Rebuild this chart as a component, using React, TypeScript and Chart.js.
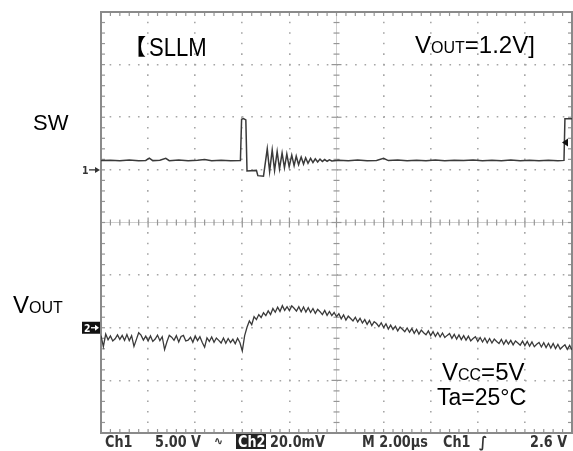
import React, { useEffect, useRef } from "react";
import { Chart, registerables } from "chart.js";

Chart.register(...registerables);

// ---- Data ----
// Time axis: 0..20 µs (M 2.00µs / div, 10 div)
const TIME_MIN_US = 0;
const TIME_MAX_US = 20;
const TIME_DIV_US = 2;

// Ch1 (SW): 5.00 V/div, ground marker one division above centre
const CH1_MIN_V = -25;
const CH1_MAX_V = 15;
const CH1_DIV_V = 5;

// Ch2 (VOUT, AC): 20.0 mV/div, ground marker two divisions below centre
const CH2_MIN_MV = -40;
const CH2_MAX_MV = 120;

const swTimeUs = [
  0, 0.4, 0.8, 1.2, 1.6, 1.9, 2.05, 2.2, 2.5, 2.75, 2.9, 3.3, 3.7, 4.1, 4.4, 4.7, 5.1, 5.5, 5.92,
  5.97, 6.05, 6.15, 6.2,
  6.6, 6.66, 6.9,
  7.06, 7.16, 7.27, 7.37, 7.48, 7.58, 7.69, 7.79, 7.89, 7.99, 8.1, 8.2, 8.29, 8.39, 8.5, 8.6,
  8.69, 8.79, 8.9, 9.0, 9.1, 9.2, 9.3, 9.4, 9.5, 9.6, 9.7, 9.8,
  10.1, 10.5, 10.9, 11.3, 11.7, 12.0, 12.2, 12.6, 13.0, 13.4, 13.8, 14.2, 14.6, 15.0, 15.4,
  15.8, 16.2, 16.6, 17.0, 17.4, 17.8, 18.2, 18.6, 19.0, 19.4, 19.66,
  19.7, 20,
];
const swVolt = [
  0.88, 0.92, 0.86, 0.93, 0.87, 0.9, 1.12, 0.88, 0.92, 1.1, 0.87, 0.93, 0.86, 0.92, 0.98, 0.86, 0.92, 0.87, 0.9,
  4.8, 4.88, 4.75, -0.1,
  -0.05, -0.55, -0.6,
  2.0, -0.15, 1.9, -0.05, 1.75, 0.1, 1.6, 0.2, 1.5, 0.3, 1.4, 0.4, 1.3, 0.5, 1.22, 0.55,
  1.15, 0.62, 1.1, 0.7, 1.05, 0.75, 1.02, 0.8, 0.98, 0.82, 0.96, 0.85,
  0.92, 0.87, 0.93, 0.86, 0.9, 1.1, 0.88, 0.93, 0.86, 0.92, 0.87, 0.93, 0.86, 0.92, 0.88,
  0.94, 0.87, 0.92, 0.86, 0.93, 0.87, 0.92, 0.86, 0.91, 0.87, 0.9,
  4.85, 4.85,
];

// VOUT ripple, mV, one sample every 0.1 µs from 0 to 20 µs
const VOUT_SAMPLE_US = 0.1;
const voutMv = [
  -3.0, -7.2, -2.4, -4.6, -3.1, -5.0, -4.2, -2.7, -4.4, -2.9,
  -4.8, -2.6, -4.9, -3.0, -7.1, -4.5, -1.9, -2.8, -4.7, -3.2,
  -5.0, -3.1, -5.2, -4.3, -2.8, -4.9, -3.4, -8.3, -5.3, -2.9,
  -3.6, -4.8, -3.0, -5.4, -3.3, -2.9, -5.0, -4.7, -3.6, -5.5,
  -3.1, -4.9, -3.4, -5.6, -7.4, -3.8, -5.2, -3.5, -5.5, -3.9,
  -4.8, -5.8, -3.9, -5.9, -4.1, -5.6, -4.4, -6.1, -4.0, -5.7,
  -8.8, -3.0, 0.2, 2.6, 1.2, 4.2, 3.1, 5.0, 3.9, 5.7,
  4.6, 6.4, 5.0, 7.3, 5.9, 7.8, 6.2, 8.4, 6.6, 8.0,
  6.5, 8.3, 7.4, 6.3, 8.0, 6.1, 7.9, 6.0, 7.6, 5.8,
  7.3, 5.5, 7.0, 6.1, 5.0, 6.6, 4.7, 6.2, 4.6, 5.8,
  4.2, 5.3, 3.4, 4.9, 2.9, 4.4, 3.5, 2.6, 4.0, 2.2,
  3.6, 1.8, 3.1, 1.3, 2.8, 0.8, 2.3, 1.6, 0.4, 1.9,
  0.1, 1.5, -0.5, 1.0, -0.7, 0.6, -1.2, 0.3, -0.6, -1.5,
  -0.1, -1.7, -0.3, -2.1, -0.6, -2.4, -0.9, -1.9, -2.7, -1.2,
  -3.0, -1.5, -3.3, -1.8, -3.5, -2.0, -3.7, -2.9, -2.2, -4.0,
  -2.5, -4.3, -2.7, -4.5, -3.0, -4.7, -3.2, -5.0, -4.1, -3.4,
  -5.2, -3.7, -5.4, -3.9, -5.7, -4.1, -5.8, -4.3, -5.2, -6.0,
  -4.4, -6.3, -4.7, -6.2, -4.8, -6.5, -5.0, -5.8, -6.6, -5.1,
  -6.8, -5.2, -7.0, -5.4, -7.2, -6.3, -5.6, -7.3, -5.7, -7.5,
  -5.9, -7.7, -6.0, -7.9, -6.3, -8.1, -7.2, -6.5, -8.2, -6.7,
  -8.4, -6.9, -8.5, -7.0, -8.7, -7.1, -8.8, -7.4, -6.2, -3.4,
  -2.6,
];

// Readout texts
const readoutCh1 = "Ch1";
const readoutCh1Scale = "5.00 V";
const readoutCoupling = "∿";
const readoutCh2 = "Ch2";
const readoutCh2Scale = "20.0mV";
const readoutTime = "M 2.00µs";
const readoutTrigSrc = "Ch1";
const readoutTrigSlope = "∫";
const readoutTrigLevel = "2.6 V";
const TRIG_LEVEL_V = 2.6;

const SANS = '"Liberation Sans", Arial, sans-serif';
const MONO = '"DejaVu Sans", sans-serif';

function drawText(
  ctx: CanvasRenderingContext2D,
  s: string,
  x: number,
  y: number,
  font: string,
  color: string,
  sx = 1
) {
  ctx.save();
  ctx.font = font;
  ctx.fillStyle = color;
  ctx.textAlign = "left";
  ctx.textBaseline = "alphabetic";
  ctx.translate(x, y);
  ctx.scale(sx, 1);
  ctx.fillText(s, 0, 0);
  const w = ctx.measureText(s).width * sx;
  ctx.restore();
  return w;
}

function seg(ctx: CanvasRenderingContext2D, x1: number, y1: number, x2: number, y2: number) {
  ctx.beginPath();
  ctx.moveTo(x1, y1);
  ctx.lineTo(x2, y2);
  ctx.stroke();
}

const decorPlugin = {
  id: "scopeDecor",
  beforeDatasetsDraw(chart: any) {
    const { ctx, chartArea: a, scales } = chart;
    const xs = scales.x;
    const ys = scales.y;
    const cx = xs.getPixelForValue((TIME_MIN_US + TIME_MAX_US) / 2);
    const cy = ys.getPixelForValue((CH1_MIN_V + CH1_MAX_V) / 2);
    ctx.save();
    // centre cross
    ctx.strokeStyle = "#cfcfcf";
    ctx.lineWidth = 1;
    seg(ctx, a.left, cy, a.right, cy);
    seg(ctx, cx, a.top, cx, a.bottom);
    // minor ticks (1/5 division)
    ctx.strokeStyle = "#969696";
    ctx.lineWidth = 1.2;
    const nx = ((TIME_MAX_US - TIME_MIN_US) / TIME_DIV_US) * 5;
    for (let i = 0; i <= nx; i++) {
      const px = xs.getPixelForValue(TIME_MIN_US + (i * TIME_DIV_US) / 5);
      const len = i % 5 === 0 ? 5 : 3;
      seg(ctx, px, cy - len, px, cy + len);
      seg(ctx, px, a.top, px, a.top + 4);
      seg(ctx, px, a.bottom - 4, px, a.bottom);
    }
    const ny = ((CH1_MAX_V - CH1_MIN_V) / CH1_DIV_V) * 5;
    for (let i = 0; i <= ny; i++) {
      const py = ys.getPixelForValue(CH1_MIN_V + (i * CH1_DIV_V) / 5);
      const len = i % 5 === 0 ? 5 : 3;
      seg(ctx, cx - len, py, cx + len, py);
      seg(ctx, a.left, py, a.left + 4, py);
      seg(ctx, a.right - 4, py, a.right, py);
    }
    // frame
    ctx.strokeStyle = "#8a8a8a";
    ctx.lineWidth = 2;
    ctx.strokeRect(a.left, a.top, a.right - a.left, a.bottom - a.top);
    ctx.restore();
  },
  afterDraw(chart: any) {
    const { ctx, chartArea: a, scales } = chart;
    const ys = scales.y;
    const y2 = scales.y2;
    ctx.save();
    // Annotations
    drawText(ctx, "【", 124, 54, 'bold 22px "Noto Sans CJK JP"', "#000");
    drawText(ctx, "SLLM", 149, 56, `26px ${SANS}`, "#000", 0.85);
    let x = 415;
    x += drawText(ctx, "V", x, 53, `24px ${SANS}`, "#000");
    x += drawText(ctx, "OUT", x, 53, `16px ${SANS}`, "#000");
    drawText(ctx, "=1.2V]", x, 53, `24px ${SANS}`, "#000");

    drawText(ctx, "SW", 33, 130, `22px ${SANS}`, "#000");
    x = 13;
    x += drawText(ctx, "V", x, 313, `24px ${SANS}`, "#000");
    drawText(ctx, "OUT", x, 313, `16px ${SANS}`, "#000");

    x = 442;
    x += drawText(ctx, "V", x, 380, `24px ${SANS}`, "#000");
    x += drawText(ctx, "CC", x, 380, `16px ${SANS}`, "#000");
    drawText(ctx, "=5V", x, 380, `24px ${SANS}`, "#000");
    drawText(ctx, "Ta=25°C", 437, 405, `23px ${SANS}`, "#000");

    // Channel ground markers
    const g1 = ys.getPixelForValue(0);
    drawText(ctx, "1", 82, g1 + 4, `bold 11px ${MONO}`, "#333", 0.85);
    ctx.strokeStyle = "#333";
    ctx.fillStyle = "#333";
    ctx.lineWidth = 1.3;
    seg(ctx, 89, g1, 96, g1);
    ctx.beginPath();
    ctx.moveTo(100, g1);
    ctx.lineTo(95, g1 - 3);
    ctx.lineTo(95, g1 + 3);
    ctx.closePath();
    ctx.fill();

    const g2 = y2.getPixelForValue(0);
    ctx.fillStyle = "#111";
    ctx.fillRect(82, g2 - 6, 18, 12);
    drawText(ctx, "2", 84, g2 + 4, `bold 11px ${MONO}`, "#fff", 0.85);
    ctx.strokeStyle = "#fff";
    seg(ctx, 91, g2, 96, g2);
    ctx.fillStyle = "#fff";
    ctx.beginPath();
    ctx.moveTo(99, g2);
    ctx.lineTo(95, g2 - 3);
    ctx.lineTo(95, g2 + 3);
    ctx.closePath();
    ctx.fill();

    // trigger level marker
    const tl = ys.getPixelForValue(TRIG_LEVEL_V);
    ctx.fillStyle = "#111";
    ctx.beginPath();
    ctx.moveTo(562, tl);
    ctx.lineTo(568, tl - 4);
    ctx.lineTo(568, tl + 4);
    ctx.closePath();
    ctx.fill();

    // Readout line
    const by = 447;
    const rf = `bold 16px ${MONO}`;
    const rc = "#333";
    drawText(ctx, readoutCh1, 105, by, rf, rc, 0.8);
    drawText(ctx, readoutCh1Scale, 155, by, rf, rc, 0.8);
    drawText(ctx, readoutCoupling, 214, by - 2, `bold 12px ${MONO}`, rc, 0.9);
    ctx.fillStyle = "#222";
    ctx.fillRect(236, a.bottom + 1, 30, 15);
    drawText(ctx, readoutCh2, 238, by, rf, "#fff", 0.8);
    drawText(ctx, readoutCh2Scale, 270, by, rf, rc, 0.8);
    drawText(ctx, readoutTime, 362, by, rf, rc, 0.8);
    drawText(ctx, readoutTrigSrc, 443, by, rf, rc, 0.8);
    drawText(ctx, readoutTrigSlope, 479, by, `bold italic 15px ${MONO}`, rc, 0.9);
    drawText(ctx, readoutTrigLevel, 530, by, rf, rc, 0.8);
    ctx.restore();
  },
};

export default function App() {
  const ref = useRef<HTMLCanvasElement | null>(null);
  useEffect(() => {
    document.body.style.margin = "0";
    const canvas = ref.current;
    if (!canvas) return;
    const swData = swTimeUs.map((t, i) => ({ x: t, y: swVolt[i] }));
    const voutData = voutMv.map((v, i) => ({ x: i * VOUT_SAMPLE_US, y: v }));
    const gridDot = "#a6a6a6";
    const chart = new Chart(canvas, {
      type: "line",
      data: {
        datasets: [
          {
            label: "SW",
            data: swData,
            yAxisID: "y",
            borderColor: "#3a3a3a",
            borderWidth: 1.5,
            pointRadius: 0,
            tension: 0,
            fill: false,
          },
          {
            label: "VOUT",
            data: voutData,
            yAxisID: "y2",
            borderColor: "#3a3a3a",
            borderWidth: 1.3,
            pointRadius: 0,
            tension: 0,
            fill: false,
          },
        ],
      },
      options: {
        animation: false,
        responsive: false,
        devicePixelRatio: 1,
        layout: { padding: { left: 101, top: 12, right: 1, bottom: 18 } },
        plugins: { legend: { display: false }, tooltip: { enabled: false } },
        scales: {
          x: {
            type: "linear",
            min: TIME_MIN_US,
            max: TIME_MAX_US,
            ticks: { display: false, stepSize: TIME_DIV_US },
            border: { display: false, dash: [1.6, 8.92], dashOffset: 0.8 },
            grid: {
              drawTicks: false,
              color: (c: any) =>
                c.tick && [TIME_MIN_US, (TIME_MIN_US + TIME_MAX_US) / 2, TIME_MAX_US].includes(c.tick.value)
                  ? "rgba(0,0,0,0)"
                  : gridDot,
              lineWidth: 1.6,
            },
          },
          y: {
            type: "linear",
            min: CH1_MIN_V,
            max: CH1_MAX_V,
            ticks: { display: false, stepSize: CH1_DIV_V },
            border: { display: false, dash: [1.6, 7.84], dashOffset: 0.8 },
            grid: {
              drawTicks: false,
              color: (c: any) =>
                c.tick && [CH1_MIN_V, (CH1_MIN_V + CH1_MAX_V) / 2, CH1_MAX_V].includes(c.tick.value)
                  ? "rgba(0,0,0,0)"
                  : gridDot,
              lineWidth: 1.6,
            },
          },
          y2: {
            type: "linear",
            display: false,
            min: CH2_MIN_MV,
            max: CH2_MAX_MV,
          },
        },
      },
      plugins: [decorPlugin],
    });
    return () => chart.destroy();
  }, []);
  return (
    <div style={{ width: 573, height: 451, background: "#fff" }}>
      <canvas ref={ref} width={573} height={451} style={{ display: "block" }} />
    </div>
  );
}
